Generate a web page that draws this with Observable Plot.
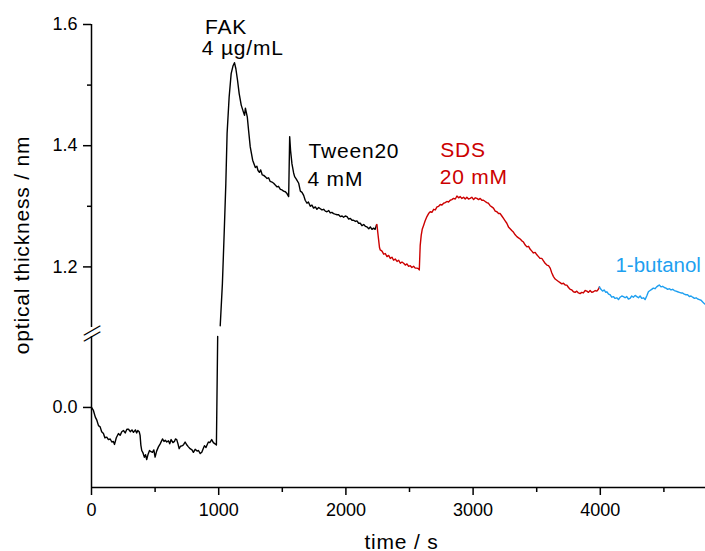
<!DOCTYPE html>
<html>
<head>
<meta charset="utf-8">
<script src="https://cdn.jsdelivr.net/npm/d3@7"></script>
<script src="https://cdn.jsdelivr.net/npm/@observablehq/plot@0.6"></script>
<style>
  html, body { margin: 0; padding: 0; background: #fff; }
</style>
</head>
<body>
<div id="chart"></div>
<script>
// ---- data ----
// black: before FAK (lower part of the broken axis) and after FAK injection
const blackT = [0,15,30,42,55,68,80,94,105,120,133,147,160,172,181,195,212,225,238,251,265,278,291,305,318,330,345,355,364,375,382,388,395,405,416,425,434,445,456,468,479,490,500,512,526,540,558,570,580,592,605,615,626,640,652,660,670,680,689,700,715,725,736,750,762,775,790,801,815,830,841,855,867,878,888,900,910,919,930,945,958,971,982,992,
  1002,
  1012,1029,1043,1056,1066,1082,1098,1113,1124,1135,1148,1161,1177,1195,1203,1210,1214,1225,1235,1248,1267,1288,1300,1309,1320,1330,1342,1354,1365,1380,1392,1405,1419,1432,1445,1459,1470,1485,1498,1510,1524,1537,1550,1558,1565,1576,1589,1597,1610,1629,1642,1655,1668,1680,1694,1705,1720,1733,1746,1760,1772,1786,1799,1812,1825,1838,1851,1865,1877,1890,1903,1916,1930,1943,1956,1970,1982,1995,2009,2022,2035,2048,2060,2075,2087,2100,2113,2126,2140,2153,2166,2180,2192,2205,2218,2230,2240];
const blackV = [0,-0.005,-0.016,-0.021,-0.030,-0.032,-0.040,-0.043,-0.050,-0.049,-0.053,-0.052,-0.057,-0.056,-0.061,-0.050,-0.043,-0.046,-0.040,-0.038,-0.042,-0.036,-0.036,-0.040,-0.037,-0.041,-0.037,-0.042,-0.038,-0.040,-0.046,-0.062,-0.071,-0.075,-0.082,-0.078,-0.086,-0.077,-0.071,-0.073,-0.074,-0.070,-0.082,-0.072,-0.065,-0.060,-0.052,-0.056,-0.054,-0.057,-0.055,-0.060,-0.053,-0.058,-0.056,-0.052,-0.053,-0.060,-0.068,-0.064,-0.063,-0.061,-0.057,-0.062,-0.065,-0.068,-0.070,-0.074,-0.069,-0.072,-0.071,-0.076,-0.074,-0.068,-0.063,-0.066,-0.061,-0.057,-0.058,-0.053,-0.058,-0.060,-0.062,0.117,
  null,
  1.103,1.172,1.255,1.337,1.420,1.480,1.519,1.532,1.537,1.527,1.508,1.486,1.467,1.455,1.450,1.462,1.458,1.447,1.425,1.398,1.376,1.364,1.366,1.359,1.356,1.360,1.352,1.351,1.349,1.346,1.347,1.341,1.340,1.338,1.335,1.332,1.333,1.328,1.327,1.325,1.324,1.321,1.316,1.415,1.392,1.370,1.355,1.349,1.345,1.338,1.325,1.323,1.318,1.310,1.305,1.307,1.300,1.302,1.297,1.299,1.295,1.298,1.296,1.294,1.295,1.292,1.291,1.293,1.289,1.290,1.288,1.287,1.286,1.286,1.283,1.284,1.282,1.284,1.283,1.279,1.280,1.277,1.277,1.275,1.276,1.272,1.272,1.268,1.270,1.267,1.266,1.263,1.266,1.262,1.264,1.262,1.269];

// red: SDS 20 mM
const sdsT = [2240,2244,2250,2257,2264,2270,2284,2297,2310,2323,2336,2349,2362,2375,2388,2402,2415,2428,2441,2454,2467,2480,2493,2506,2519,2532,2545,2558,2570,2577,2584,2592,2600,2610,2623,2637,2650,2663,2676,2690,2703,2716,2729,2742,2755,2768,2781,2794,2807,2820,2833,2846,2860,2873,2886,2899,2912,2925,2938,2951,2964,2977,2990,3004,3017,3030,3043,3056,3069,3082,3095,3108,3121,3134,3147,3160,3174,3187,3200,3213,3226,3239,3252,3265,3278,3291,3304,3318,3331,3344,3357,3370,3383,3396,3410,3423,3436,3449,3462,3474,3488,3501,3514,3527,3540,3553,3566,3580,3593,3606,3619,3632,3645,3658,3671,3684,3697,3710,3724,3737,3750,3763,3776,3789,3802,3815,3828,3841,3854,3867,3880,3894,3907,3920,3933,3946,3960,3973,3985,3993];
const sdsV = [1.269,1.270,1.258,1.245,1.232,1.228,1.226,1.221,1.222,1.217,1.219,1.214,1.216,1.211,1.213,1.209,1.211,1.206,1.208,1.206,1.203,1.205,1.201,1.202,1.199,1.201,1.198,1.198,1.197,1.195,1.235,1.252,1.262,1.268,1.276,1.283,1.288,1.291,1.290,1.295,1.294,1.299,1.300,1.303,1.302,1.305,1.306,1.308,1.307,1.310,1.311,1.313,1.312,1.317,1.314,1.316,1.313,1.315,1.312,1.315,1.312,1.313,1.315,1.311,1.314,1.313,1.311,1.313,1.310,1.310,1.308,1.306,1.305,1.301,1.299,1.297,1.292,1.291,1.288,1.288,1.284,1.280,1.276,1.272,1.266,1.263,1.260,1.257,1.253,1.250,1.248,1.246,1.243,1.241,1.236,1.233,1.234,1.229,1.226,1.223,1.224,1.220,1.217,1.214,1.214,1.210,1.206,1.203,1.202,1.198,1.190,1.184,1.180,1.178,1.176,1.174,1.172,1.173,1.170,1.170,1.166,1.163,1.162,1.159,1.158,1.160,1.157,1.156,1.158,1.157,1.161,1.160,1.158,1.161,1.158,1.159,1.161,1.160,1.163,1.167];

// blue: 1-butanol
const butT = [3993,4005,4018,4030,4043,4051,4065,4078,4090,4103,4116,4130,4143,4156,4169,4182,4195,4208,4221,4234,4247,4260,4274,4287,4300,4313,4326,4340,4352,4365,4378,4391,4404,4417,4430,4443,4456,4464,4477,4490,4503,4516,4530,4543,4556,4569,4582,4595,4608,4621,4634,4647,4660,4673,4686,4700,4713,4726,4740,4753,4766,4779,4792,4805,4815,4827];
const butV = [1.167,1.163,1.160,1.162,1.158,1.159,1.155,1.154,1.150,1.151,1.148,1.149,1.146,1.150,1.152,1.151,1.149,1.151,1.147,1.148,1.152,1.150,1.153,1.151,1.149,1.152,1.148,1.149,1.146,1.152,1.159,1.161,1.163,1.165,1.164,1.167,1.169,1.170,1.167,1.168,1.166,1.165,1.163,1.164,1.162,1.163,1.161,1.160,1.159,1.158,1.157,1.157,1.155,1.154,1.154,1.151,1.152,1.150,1.148,1.149,1.147,1.146,1.145,1.142,1.140,1.138];

// axis ticks
const xMajor = [0, 1000, 2000, 3000, 4000];
const xMinor = [500, 1500, 2500, 3500, 4500];
const yMajor = [0.0, 1.2, 1.4, 1.6];
const yMinor = [1.3, 1.5];
// broken y axis: lower piece and upper piece
const yLower = [-0.132, 0.117];
const yUpper = [1.1, 1.6];
const xDomain = [0, 4827];

// annotations
const notes = [
  {t: 893, v: 1.585, label: "FAK", color: "black"},
  {t: 867, v: 1.549, label: "4 µg/mL", color: "black"},
  {t: 1706, v: 1.380, label: "Tween20", color: "black"},
  {t: 1698, v: 1.333, label: "4 mM", color: "black"},
  {t: 2742, v: 1.381, label: "SDS", color: "#cc0000"},
  {t: 2737, v: 1.336, label: "20 mM", color: "#cc0000"}
];
const edgeNote = [{t: 4119, v: 1.191, label: "1-butanol", color: "#1e9ff0"}];

const toRows = (T, V) => T.map((t, i) => ({t, v: V[i]}));
const black = toRows(blackT, blackV);
const sds = toRows(sdsT, sdsV);
const but = toRows(butT, butV);

const font = "'Liberation Sans', Arial, sans-serif";

const chart = Plot.plot({
  width: 705,
  height: 551,
  marginLeft: 91,
  marginRight: 0,
  marginTop: 24,
  marginBottom: 64,
  style: {fontFamily: font, fontSize: "17px", color: "black", background: "white", overflow: "hidden"},
  x: {domain: xDomain},
  y: {type: "linear", domain: [yLower[0], yLower[1], yUpper[0], yUpper[1]], range: [487, 336, 327, 24]},
  marks: [
    // axis lines
    Plot.ruleY([yLower[0]], {stroke: "black", strokeWidth: 1.5}),
    Plot.ruleX([yLower, yUpper], {x: () => 0, y1: d => d[0], y2: d => d[1], stroke: "black", strokeWidth: 1.5}),
    // break marks
    Plot.text([yUpper[0]], {x: () => 0, y: d => d, text: () => "\u2014", rotate: -30, fontSize: 19, dy: 2, lineAnchor: "middle", textAnchor: "middle"}),
    Plot.text([yLower[1]], {x: () => 0, y: d => d, text: () => "\u2014", rotate: -30, fontSize: 19, dy: -1, lineAnchor: "middle", textAnchor: "middle"}),
    // ticks
    Plot.axisX({ticks: xMajor, tickSize: 8, tickPadding: 8, tickFormat: d3.format("d"), fontSize: 18, label: null, strokeWidth: 1.5}),
    Plot.axisX({ticks: xMinor, tickSize: 5, tickFormat: () => "", label: null, strokeWidth: 1.5}),
    Plot.axisY({ticks: yMajor, tickSize: 8, tickPadding: 6, tickFormat: d3.format(".1f"), fontSize: 18, label: null, strokeWidth: 1.5}),
    Plot.axisY({ticks: yMinor, tickSize: 4, tickFormat: () => "", label: null, strokeWidth: 1.5}),
    // data
    Plot.line(black, {x: "t", y: "v", stroke: "black", strokeWidth: 1.4}),
    Plot.line(sds, {x: "t", y: "v", stroke: "#cc0000", strokeWidth: 1.4}),
    Plot.line(but, {x: "t", y: "v", stroke: "#1e9ff0", strokeWidth: 1.4}),
    // annotations
    Plot.text(notes, {x: "t", y: "v", text: "label", fill: "color", fontSize: 21, textAnchor: "start", lineAnchor: "bottom"}),
    Plot.text(edgeNote, {x: "t", y: "v", text: "label", fill: "color", fontSize: 20.5, textAnchor: "start", lineAnchor: "bottom"}),
    // axis labels
    Plot.text(["time / s"], {frameAnchor: "bottom", text: d => d, fontSize: 21, textAnchor: "middle", lineAnchor: "bottom", dy: 61, dx: 3}),
    Plot.text(["optical thickness / nm"], {frameAnchor: "left", text: d => d, fontSize: 21, rotate: -90, textAnchor: "middle", lineAnchor: "bottom", dx: -63, dy: -11})
  ]
});
// slightly wider lettering, as in the reference
d3.select(chart).selectAll("g[font-size='21'] text").attr("letter-spacing", "0.8px");
document.getElementById("chart").appendChild(chart);
</script>
</body>
</html>
